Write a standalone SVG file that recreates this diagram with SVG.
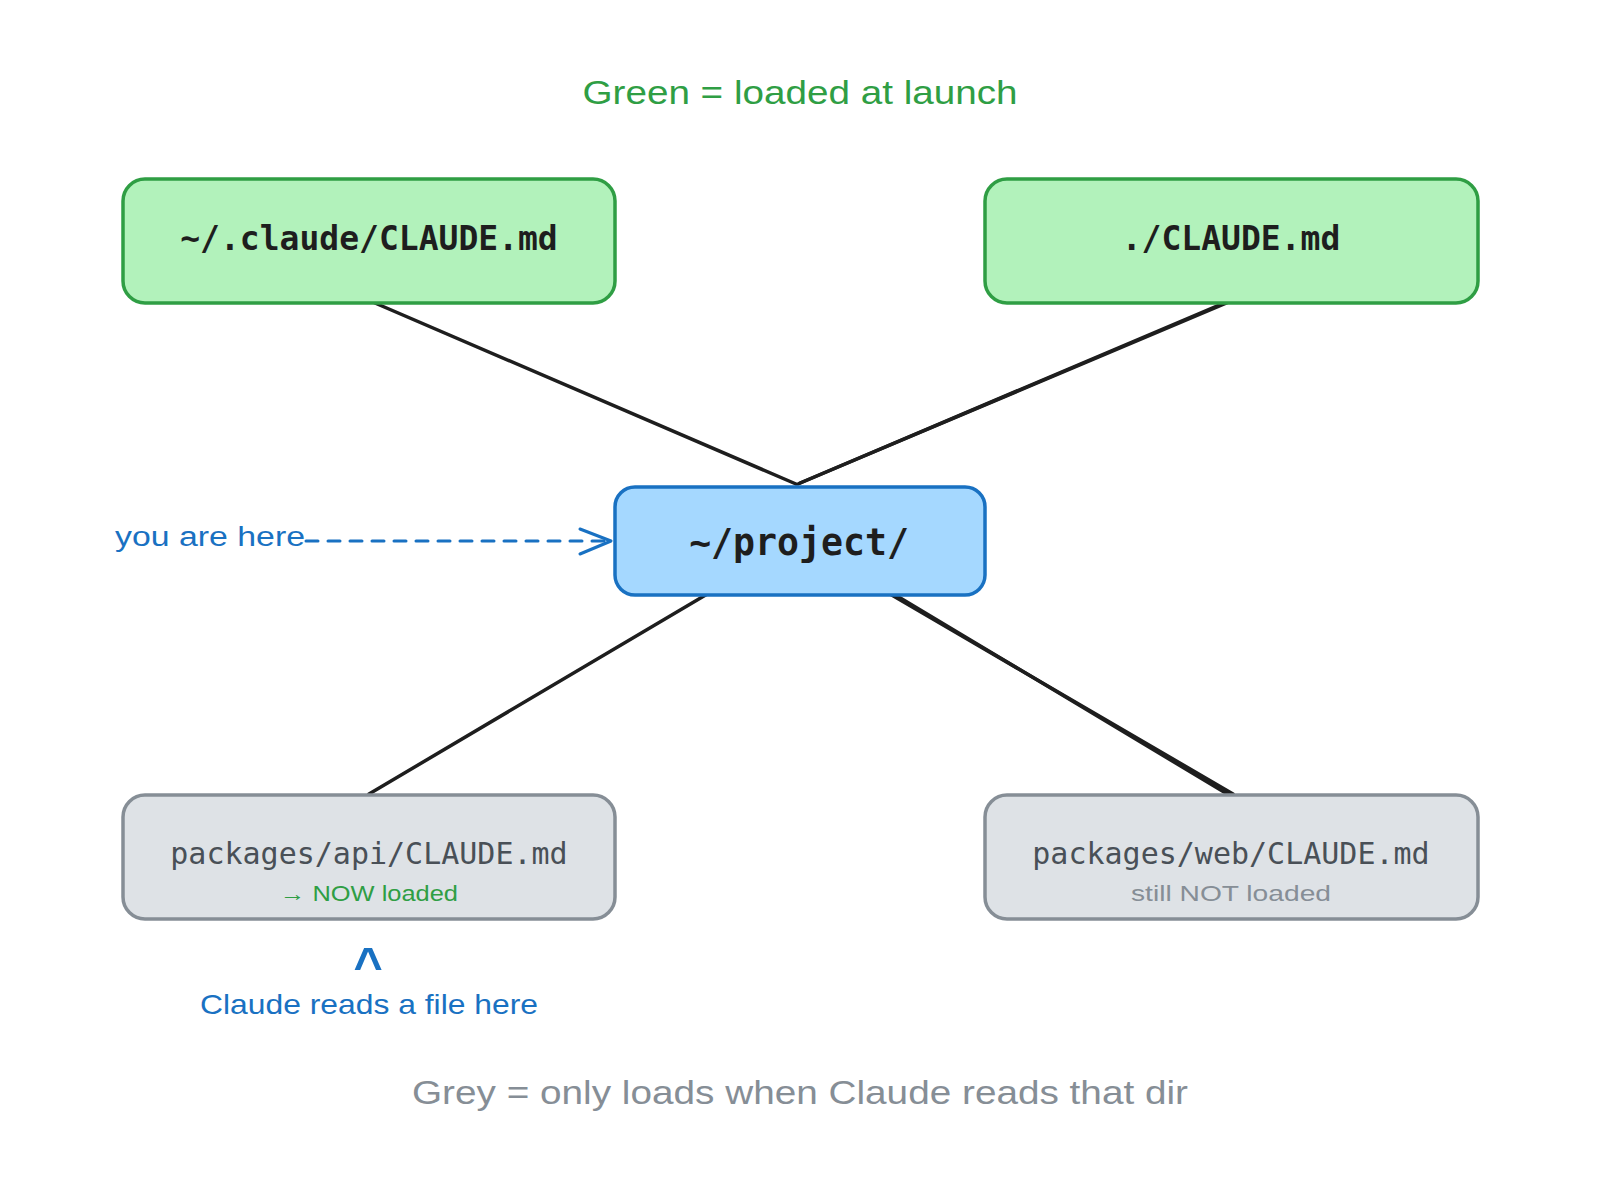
<svg xmlns="http://www.w3.org/2000/svg" width="1606" height="1184" viewBox="0 0 1606 1184">
<style>
.box{stroke-width:3.5;stroke-linejoin:round}
.green{fill:#b2f2bb;stroke:#2f9e44}
.blue{fill:#a5d8ff;stroke:#1971c2}
.grey{fill:#dee2e6;stroke:#868e96}
.mono{font-family:"DejaVu Sans Mono","Liberation Mono",monospace;text-anchor:middle}
.hand{font-family:"Liberation Sans","DejaVu Sans",sans-serif;text-anchor:middle}
.edge{stroke:#1e1e1e;stroke-width:3.5;stroke-linecap:round;fill:none}
</style>
<rect width="1606" height="1184" fill="#ffffff"/>

<text class="hand" x="800" y="104" font-size="34" fill="#2f9e44" textLength="435" lengthAdjust="spacingAndGlyphs">Green = loaded at launch</text>

<g id="connectors">
  <line class="edge" x1="368" y1="300" x2="796" y2="484"/>
  <line class="edge" x1="1231" y1="300" x2="798" y2="484"/>
  <line class="edge" x1="1229" y1="302" x2="800" y2="483" stroke-width="1.5"/>
  <line class="edge" x1="709" y1="593" x2="369" y2="794"/>
  <line class="edge" x1="890" y1="594" x2="1233" y2="794"/>
  <line class="edge" x1="892" y1="593" x2="1229" y2="795" stroke-width="1.5"/>
  <g id="you-are-here-arrow">
    <line x1="306" y1="541" x2="610" y2="541" stroke="#1971c2" stroke-width="3" stroke-dasharray="12 10" stroke-linecap="round"/>
    <polyline points="580,529 611,541 580,554" fill="none" stroke="#1971c2" stroke-width="3" stroke-linecap="round" stroke-linejoin="round"/>
  </g>
</g>

<g id="node-global">
  <rect class="box green" x="123" y="179" width="492" height="124" rx="22"/>
  <text class="mono" x="369" y="250" font-size="33" font-weight="bold" fill="#1e1e1e">~/.claude/CLAUDE.md</text>
</g>

<g id="node-local">
  <rect class="box green" x="985" y="179" width="493" height="124" rx="22"/>
  <text class="mono" x="1231" y="250" font-size="33" font-weight="bold" fill="#1e1e1e">./CLAUDE.md</text>
</g>

<g id="node-project">
  <rect class="box blue" x="615" y="487" width="370" height="108" rx="20"/>
  <text class="mono" x="799" y="555" font-size="36.5" font-weight="bold" fill="#1e1e1e">~/project/</text>
</g>

<g id="node-api">
  <rect class="box grey" x="123" y="795" width="492" height="124" rx="22"/>
  <text class="mono" x="369" y="864" font-size="30" fill="#495057">packages/api/CLAUDE.md</text>
  <text class="hand" x="369" y="901" font-size="22" fill="#2f9e44" textLength="178" lengthAdjust="spacingAndGlyphs">→ NOW loaded</text>
</g>

<g id="node-web">
  <rect class="box grey" x="985" y="795" width="493" height="124" rx="22"/>
  <text class="mono" x="1231" y="864" font-size="30" fill="#495057">packages/web/CLAUDE.md</text>
  <text class="hand" x="1231" y="901" font-size="22" fill="#868e96" textLength="200" lengthAdjust="spacingAndGlyphs">still NOT loaded</text>
</g>

<g id="label-you-are-here">
  <text class="hand" x="210" y="546" font-size="27" fill="#1971c2" textLength="190" lengthAdjust="spacingAndGlyphs">you are here</text>
</g>

<g id="label-claude-reads">
  <text class="hand" x="368" y="983" font-size="50" font-weight="bold" fill="#1971c2">^</text>
  <text class="hand" x="369" y="1014" font-size="28" fill="#1971c2" textLength="338" lengthAdjust="spacingAndGlyphs">Claude reads a file here</text>
</g>

<g id="legend-grey">
  <text class="hand" x="800" y="1104" font-size="34" fill="#868e96" textLength="776" lengthAdjust="spacingAndGlyphs">Grey = only loads when Claude reads that dir</text>
</g>
</svg>
